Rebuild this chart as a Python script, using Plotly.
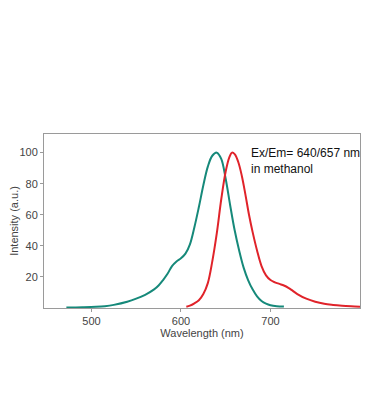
import plotly.graph_objects as go

# Excitation (teal)
ex_wl = [472, 490, 505, 515, 525, 540, 550, 560, 570, 575, 580, 585, 590, 595, 600, 605, 610, 615,
         620, 625, 630, 635, 640, 645, 650, 655, 660, 665, 670, 675, 680, 685, 690, 695, 700, 707, 715]
ex_int = [0.3, 0.5, 0.8, 1.2, 2.0, 4.0, 6.0, 8.5, 12, 14.5, 18, 22, 27, 30, 32, 35, 41, 52,
          65, 79, 91, 98, 100, 96, 83, 66, 50, 37, 26, 18, 12, 7.5, 4.5, 2.8, 1.8, 1.2, 1.0]

# Emission (red)
em_wl = [606, 610, 615, 620, 625, 630, 635, 640, 645, 650, 654, 657, 660, 664, 668, 672, 676, 680,
         685, 690, 695, 700, 705, 710, 715, 720, 725, 730, 740, 750, 760, 770, 780, 790, 800]
em_int = [0.8, 1.5, 3, 5, 9, 16, 30, 48, 70, 88, 97, 100, 99, 94, 85, 73, 60, 49,
          37, 27, 21, 18, 16.5, 15.5, 14.5, 13, 11, 9, 6, 4, 2.7, 2.0, 1.5, 1.1, 0.8]

x_ticks = [500, 600, 700]
y_ticks = [20, 40, 60, 80, 100]

FONT = "Liberation Sans, Arial"

fig = go.Figure()
fig.add_trace(go.Scatter(x=ex_wl, y=ex_int, mode="lines", line=dict(color="#16897a", width=2, shape="spline"),
                         showlegend=False))
fig.add_trace(go.Scatter(x=em_wl, y=em_int, mode="lines", line=dict(color="#e0232a", width=2, shape="spline"),
                         showlegend=False))

fig.add_annotation(x=0.648, y=0.945, xref="paper", yref="paper", xanchor="left", yanchor="top",
                   text="Ex/Em= 640/657 nm<br>in methanol", showarrow=False, align="left",
                   font=dict(family=FONT, size=12, color="#111"))

axis_common = dict(showline=True, linecolor="#9a9a9a", linewidth=1, mirror=True, showgrid=False,
                   zeroline=False, ticks="outside", ticklen=3, tickcolor="#9a9a9a", automargin=False,
                   tickfont=dict(family=FONT, size=11, color="#444"))

# page body has an 8px default margin, so the figure is sized/offset to compensate
fig.update_layout(
    width=354, height=401,
    margin=dict(l=36, r=2, t=126, b=101),
    paper_bgcolor="white", plot_bgcolor="white",
    xaxis=dict(range=[447, 800], tickvals=x_ticks,
               title=dict(text="Wavelength (nm)", standoff=2,
                          font=dict(family=FONT, size=11, color="#444")),
               **axis_common),
    yaxis=dict(range=[0, 112], tickvals=y_ticks,
               title=dict(text="Intensity (a.u.)", standoff=4,
                          font=dict(family=FONT, size=11, color="#444")),
               **axis_common),
)

fig.write_html("out.html")
